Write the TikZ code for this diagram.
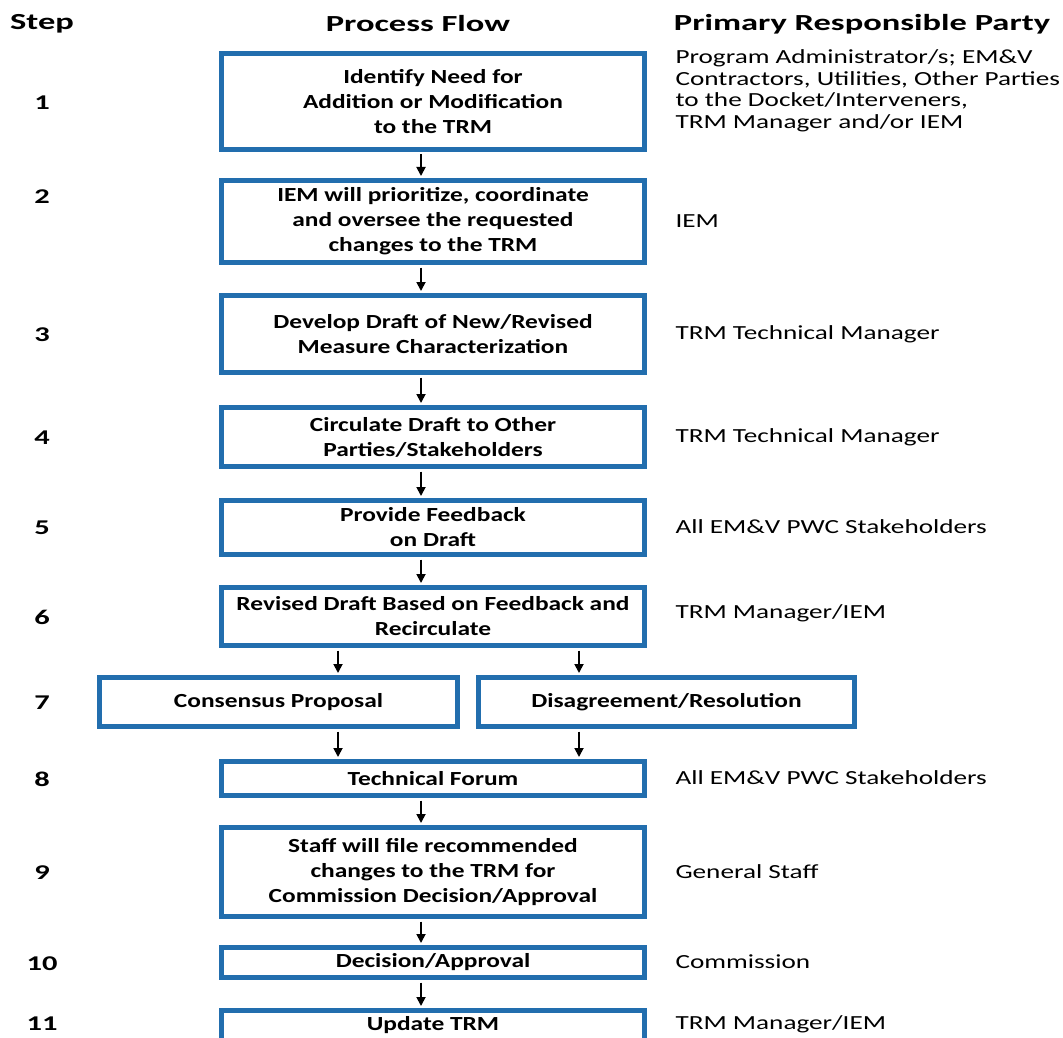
\documentclass[tikz,border=0pt]{standalone}
\usepackage{fontspec}
\setmainfont{Carlito}[FakeStretch=1.27]
\newfontfamily\partyfont{Carlito}[FakeStretch=1.36]
\newfontfamily\headfont{Carlito}[FakeStretch=1.45]
\newfontfamily\titlefont{Carlito}[FakeStretch=1.5]
\usepackage{xcolor}
\usepackage{tikz}
\usetikzlibrary{positioning, arrows.meta}

\definecolor{flowblue}{RGB}{34,110,174}

\begin{document}
\begin{tikzpicture}[x=1pt, y=-1pt,
  flowbox/.style={draw=flowblue, line width=5pt, fill=white, align=center, inner sep=0pt,
    font=\fontsize{20}{25}\selectfont\bfseries},
  mainbox/.style={flowbox, minimum width=423pt},
  steplabel/.style={font=\headfont\fontsize{21}{25}\selectfont\bfseries},
  party/.style={anchor=west, align=left, font=\partyfont\fontsize{20}{21.5}\selectfont},
  header/.style={font=\titlefont\fontsize{23}{27}\selectfont\bfseries},
  flowarrow/.style={-{Triangle[length=9pt,width=9pt]}, line width=1.8pt, shorten <=2.5pt, shorten >=2pt}]
  \useasboundingbox[fill=white] (0,0) rectangle (1063,1038);

  % column heads
  \node[header] (hstep) at (42,24) {Step};
  \node[header] (hflow) at (418,24) {Process Flow};
  \node[header] (hparty) at (862,24) {Primary Responsible Party};

  % process boxes
  \node[mainbox, minimum height=96pt] (b1) at (433,101.5) {Identify Need for\\Addition or Modification\\to the TRM};
  \node[mainbox, minimum height=82pt] (b2) at (433,221.5) {IEM will prioritize, coordinate\\and oversee the requested\\changes to the TRM};
  \node[mainbox, minimum height=77pt] (b3) at (433,334) {Develop Draft of New/Revised\\Measure Characterization};
  \node[mainbox, minimum height=59pt] (b4) at (433,437) {Circulate Draft to Other\\Parties/Stakeholders};
  \node[mainbox, minimum height=54pt] (b5) at (433,527.5) {Provide Feedback\\on Draft};
  \node[mainbox, minimum height=58pt] (b6) at (433,616.5) {Revised Draft Based on Feedback and\\Recirculate};
  \node[flowbox, minimum width=358pt, minimum height=49pt] (b7a) at (278.5,702) {Consensus Proposal};
  \node[flowbox, minimum width=376pt, minimum height=49pt] (b7b) at (666.5,702) {Disagreement/Resolution};
  \node[mainbox, minimum height=34pt] (b8) at (433,778.5) {Technical Forum};
  \node[mainbox, minimum height=89pt] (b9) at (433,872) {Staff will file recommended\\changes to the TRM for\\Commission Decision/Approval};
  \node[mainbox, minimum height=30pt] (b10) at (433,962.5) {Decision/Approval};
  \node[mainbox, minimum height=30pt] (b11) at (433,1025.5) {Update TRM};

  % step numbers
  \foreach \n/\y in {1/103,2/197,3/335,4/438,5/528,6/617,7/703,8/779,9/873,10/964,11/1024}
    \node[steplabel] (s\n) at (42,\y) {\n};

  % responsible parties
  \node[party] (p1) at (672,91) {Program Administrator/s; EM\&V\\Contractors, Utilities, Other Parties\\to the Docket/Interveners,\\TRM Manager and/or IEM};
  \node[party] (p2) at (672,221) {IEM};
  \node[party] (p3) at (672,334) {TRM Technical Manager};
  \node[party] (p4) at (672,437) {TRM Technical Manager};
  \node[party] (p5) at (672,527) {All EM\&V PWC Stakeholders};
  \node[party] (p6) at (672,613) {TRM Manager/IEM};
  \node[party] (p8) at (672,778) {All EM\&V PWC Stakeholders};
  \node[party] (p9) at (672,872) {General Staff};
  \node[party] (p10) at (672,962) {Commission};
  \node[party] (p11) at (672,1024) {TRM Manager/IEM};

  % connectors
  \coordinate (mx) at (421,0);
  \coordinate (lx) at (338,0);
  \coordinate (rx) at (579,0);
  \draw[flowarrow] (b1.south -| mx) -- (b2.north -| mx);
  \draw[flowarrow] (b2.south -| mx) -- (b3.north -| mx);
  \draw[flowarrow] (b3.south -| mx) -- (b4.north -| mx);
  \draw[flowarrow] (b4.south -| mx) -- (b5.north -| mx);
  \draw[flowarrow] (b5.south -| mx) -- (b6.north -| mx);
  \draw[flowarrow] (b6.south -| lx) -- (b7a.north -| lx);
  \draw[flowarrow] (b6.south -| rx) -- (b7b.north -| rx);
  \draw[flowarrow] (b7a.south -| lx) -- (b8.north -| lx);
  \draw[flowarrow] (b7b.south -| rx) -- (b8.north -| rx);
  \draw[flowarrow] (b8.south -| mx) -- (b9.north -| mx);
  \draw[flowarrow] (b9.south -| mx) -- (b10.north -| mx);
  \draw[flowarrow] (b10.south -| mx) -- (b11.north -| mx);
\end{tikzpicture}
\end{document}
